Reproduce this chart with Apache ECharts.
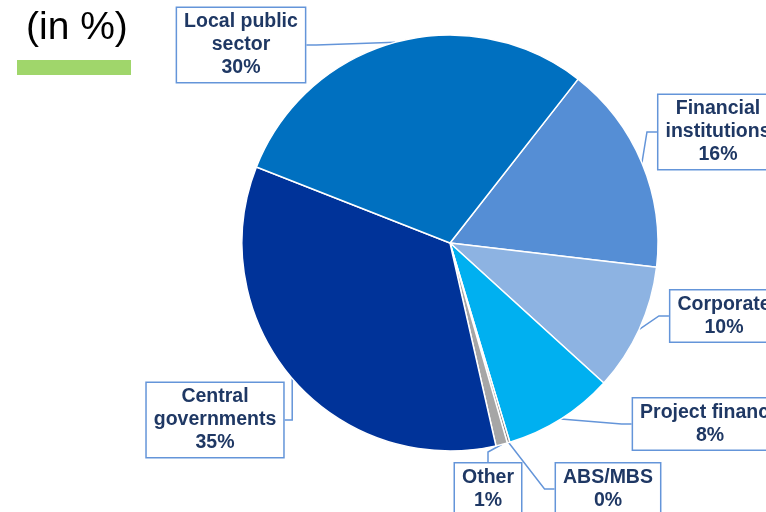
<!DOCTYPE html>
<html lang="en">
<head>
    <meta charset="UTF-8">
    <title>Exposure by counterparty</title>
    <script src="https://cdn.jsdelivr.net/npm/echarts@6/dist/echarts.min.js"></script>
    <style>
        html, body { margin: 0; padding: 0; background: #fff; }
        #pie { width: 766px; height: 512px; }
    </style>
</head>
<body>
    <div id="pie"></div>
<script>
    // slices, clockwise from the top-right boundary
    var categories = ['Financial\ninstitutions', 'Corporate', 'Project finance', 'ABS/MBS', 'Other', 'Central\ngovernments', 'Local public\nsector'];
    var shares = [16.3, 9.9, 8.6, 0.2, 0.9, 34.5, 29.6];      // size of each slice
    var shownPct = [16, 10, 8, 0, 1, 35, 30];                  // percentages printed in the boxes
    var colors = ['#558ED5', '#8DB3E2', '#00B0F0', '#7F7F7F', '#A6A6A6', '#003399', '#0070C0'];

    // where each callout box sits (centre of box)
    var boxPos = [[718, 132], [724, 316], [710, 424], [608, 489], [488, 489], [215, 420], [241, 45]];

    var chart = echarts.init(document.getElementById('pie'));

    var seriesData = categories.map(function (name, i) {
        return {
            name: name,
            value: shares[i],
            itemStyle: { color: colors[i] }
        };
    });

    chart.setOption({
        animation: false,
        graphic: [
            {
                type: 'text',
                left: 26,
                top: 9,
                style: {
                    text: '(in %)',
                    font: '39px "Liberation Sans", Arial, sans-serif',
                    fill: '#000'
                }
            },
            {
                type: 'rect',
                shape: { x: 17, y: 60, width: 114, height: 15 },
                style: { fill: '#A0D66B' }
            }
        ],
        series: [{
            type: 'pie',
            // wide layout box so the right-hand callouts are not squeezed (they run off the edge)
            left: 0,
            top: 0,
            width: 1200,
            height: 512,
            center: [450, 243],
            radius: 208,
            startAngle: 52,
            clockwise: true,
            data: seriesData,
            itemStyle: { borderColor: '#fff', borderWidth: 1.5 },
            emphasis: { disabled: true },
            label: {
                show: true,
                position: 'outside',
                overflow: 'none',
                formatter: function (p) {
                    return p.name + '\n' + shownPct[p.dataIndex] + '%';
                },
                color: '#1F3864',
                fontWeight: 'bold',
                fontSize: 19.5,
                fontFamily: '"Liberation Sans", Arial, sans-serif',
                lineHeight: 23,
                align: 'center',
                backgroundColor: '#fff',
                borderColor: '#6495D9',
                borderWidth: 1.5,
                padding: [3, 7, 2, 7]
            },
            labelLine: {
                show: true,
                length: 10,
                length2: 10,
                lineStyle: { color: '#6495D9', width: 1.5 }
            },
            labelLayout: function (params) {
                var p = boxPos[params.dataIndex];
                return {
                    x: p[0],
                    y: p[1],
                    align: 'center',
                    verticalAlign: 'middle'
                };
            }
        }]
    });
</script>
</body>
</html>
